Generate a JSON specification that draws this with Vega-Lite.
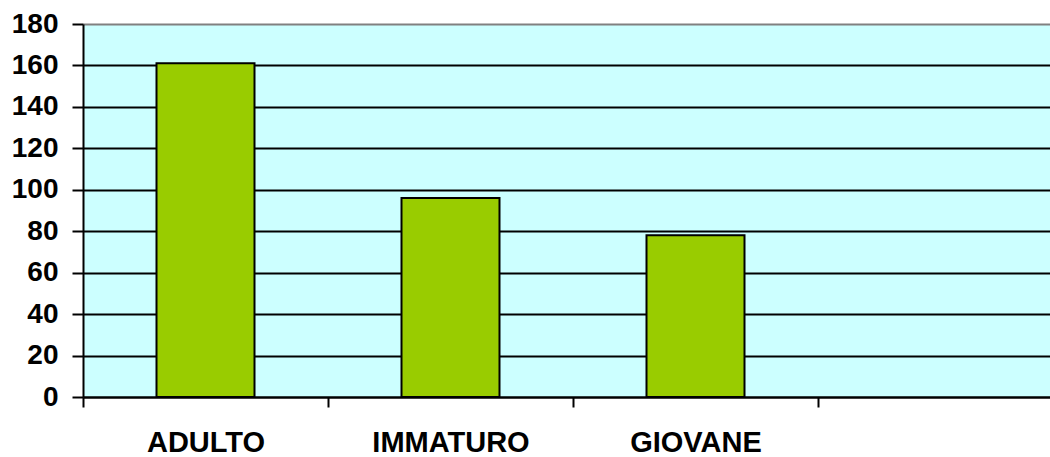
{
  "$schema": "https://vega.github.io/schema/vega-lite/v6.json",
  "width": 967,
  "height": 373,
  "autosize": {"type": "none"},
  "padding": {"left": 83, "top": 24, "right": 0, "bottom": 60},
  "background": "white",
  "config": {
    "view": {"fill": "#CCFFFF", "stroke": null},
    "font": "Liberation Sans"
  },
  "data": {
    "values": [
      {"categoria": "ADULTO", "valore": 161},
      {"categoria": "IMMATURO", "valore": 96},
      {"categoria": "GIOVANE", "valore": 78}
    ]
  },
  "mark": {"type": "bar", "fill": "#99CC00", "stroke": "black", "strokeWidth": 2, "width": {"band": 0.4}},
  "encoding": {
    "x": {
      "field": "categoria",
      "type": "nominal",
      "sort": null,
      "scale": {"domain": ["ADULTO", "IMMATURO", "GIOVANE", " "], "range": [0, 980], "paddingInner": 0, "paddingOuter": 0},
      "axis": {
        "title": null,
        "labelAngle": 0,
        "tickBand": "extent",
        "domainColor": "black",
        "domainWidth": 2,
        "tickColor": "black",
        "tickWidth": 2,
        "tickSize": 10,
        "labelFont": "Liberation Sans",
        "labelFontWeight": "bold",
        "labelFontSize": 29,
        "labelColor": "black",
        "labelPadding": 21,
        "grid": false
      }
    },
    "y": {
      "field": "valore",
      "type": "quantitative",
      "scale": {"domain": [0, 180], "nice": false},
      "axis": {
        "title": null,
        "values": [0, 20, 40, 60, 80, 100, 120, 140, 160, 180],
        "domainColor": "black",
        "domainWidth": 2,
        "tickColor": "black",
        "tickWidth": 2,
        "tickSize": 11,
        "labelFont": "Liberation Sans",
        "labelFontWeight": "bold",
        "labelFontSize": 28,
        "labelColor": "black",
        "labelPadding": 14,
        "grid": true,
        "gridColor": {"condition": {"test": "datum.value === 180", "value": "#808080"}, "value": "black"},
        "gridWidth": 2,
        "gridOpacity": 1
      }
    }
  }
}
